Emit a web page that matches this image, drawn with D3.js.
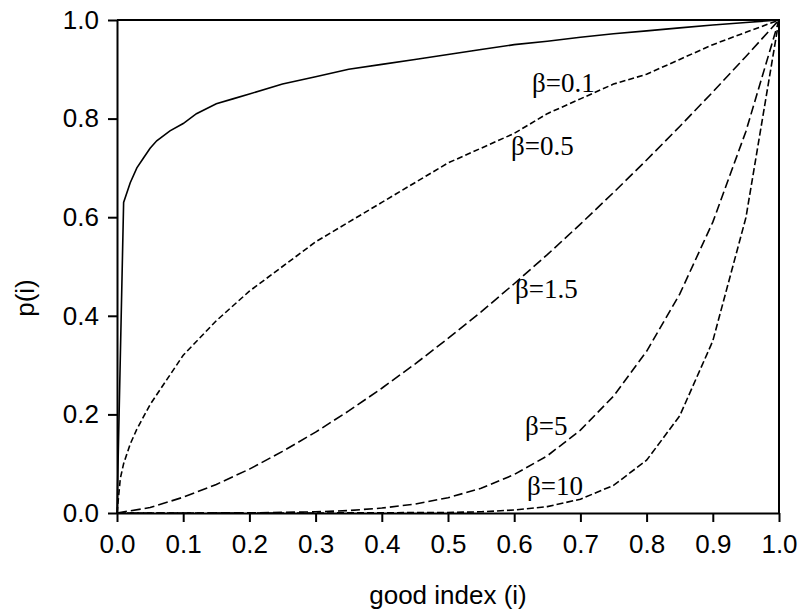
<!DOCTYPE html>
<html>
<head>
<meta charset="utf-8">
<script src="https://cdn.jsdelivr.net/npm/d3@7"></script>
<style>
	body { margin: 0; background: white; }
	.axis text { font-family: "Liberation Sans", Arial, sans-serif; font-size: 26px; fill: black; }
	.axis path, .axis line { stroke: black; stroke-width: 2; }
	.lbl { font-family: "Liberation Serif", "Times New Roman", serif; font-size: 27px; }
	.title { font-family: "Liberation Sans", Arial, sans-serif; font-size: 26px; }
</style>
</head>
<body>
<svg width="798" height="613"></svg>
<script>

function whenDocumentLoaded(action) {
	if (document.readyState === "loading") {
		document.addEventListener("DOMContentLoaded", action);
	} else {
		action();
	}
}

// values, p(i) against good index i
const I_01 = [0, 0.01, 0.02, 0.03, 0.04, 0.05, 0.06, 0.08, 0.1, 0.12, 0.15, 0.175, 0.2, 0.25, 0.3, 0.35, 0.4, 0.45, 0.5, 0.55, 0.6, 0.65, 0.7, 0.75, 0.8, 0.85, 0.9, 0.95, 1];
const P_01 = [0, 0.63, 0.67, 0.70, 0.72, 0.74, 0.755, 0.775, 0.79, 0.81, 0.83, 0.84, 0.85, 0.87, 0.885, 0.90, 0.91, 0.92, 0.93, 0.94, 0.95, 0.957, 0.965, 0.972, 0.978, 0.984, 0.99, 0.995, 1];

const I_05 = [0, 0.005, 0.01, 0.02, 0.03, 0.05, 0.075, 0.1, 0.15, 0.2, 0.25, 0.3, 0.35, 0.4, 0.45, 0.5, 0.55, 0.6, 0.65, 0.7, 0.75, 0.8, 0.85, 0.9, 0.95, 1];
const P_05 = [0, 0.07, 0.10, 0.14, 0.17, 0.22, 0.27, 0.32, 0.39, 0.45, 0.50, 0.55, 0.59, 0.63, 0.67, 0.71, 0.74, 0.77, 0.81, 0.84, 0.87, 0.89, 0.92, 0.95, 0.975, 1];

const I_15 = [0, 0.05, 0.1, 0.15, 0.2, 0.25, 0.3, 0.35, 0.4, 0.45, 0.5, 0.55, 0.6, 0.65, 0.7, 0.75, 0.8, 0.85, 0.9, 0.95, 1];
const P_15 = [0, 0.011, 0.032, 0.058, 0.089, 0.125, 0.164, 0.207, 0.253, 0.302, 0.354, 0.408, 0.465, 0.524, 0.586, 0.65, 0.716, 0.784, 0.854, 0.926, 1];

const I_5 = [0, 0.1, 0.2, 0.3, 0.35, 0.4, 0.45, 0.5, 0.55, 0.6, 0.65, 0.7, 0.75, 0.8, 0.85, 0.9, 0.95, 1];
const P_5 = [0, 0, 0.0003, 0.0024, 0.005, 0.01, 0.018, 0.031, 0.05, 0.078, 0.116, 0.168, 0.237, 0.328, 0.444, 0.59, 0.774, 1];

const I_10 = [0, 0.1, 0.3, 0.5, 0.55, 0.6, 0.65, 0.7, 0.75, 0.8, 0.85, 0.9, 0.95, 1];
const P_10 = [0, 0, 0, 0.001, 0.0025, 0.006, 0.013, 0.028, 0.056, 0.107, 0.197, 0.349, 0.599, 1];

const BETAS = ['β=0.1', 'β=0.5', 'β=1.5', 'β=5', 'β=10'];
const X_TICKS = [0, 0.1, 0.2, 0.3, 0.4, 0.5, 0.6, 0.7, 0.8, 0.9, 1.0];
const Y_TICKS = [0, 0.2, 0.4, 0.6, 0.8, 1.0];

class CurvePlot {
	constructor(series){
		let svg = d3.select('svg');
		let left = 117, right = 779, top = 20, bottom = 513;

		let scaleX = d3.scaleLinear().domain([0, 1]).range([left, right]);
		let scaleY = d3.scaleLinear().domain([0, 1]).range([bottom, top]);

		// frame: top and right sides
		svg.append('path')
			.attr('d', `M${left},${top}H${right}V${bottom}`)
			.attr('fill', 'none').attr('stroke', 'black').attr('stroke-width', 2);

		let xAxis = d3.axisBottom(scaleX).tickValues(X_TICKS).tickFormat(d3.format('.1f'))
			.tickSizeInner(9).tickSizeOuter(0).tickPadding(13);
		let yAxis = d3.axisLeft(scaleY).tickValues(Y_TICKS).tickFormat(d3.format('.1f'))
			.tickSizeInner(9).tickSizeOuter(0).tickPadding(9);
		svg.append('g').attr('class', 'axis').attr('transform', `translate(0,${bottom})`).call(xAxis);
		svg.append('g').attr('class', 'axis').attr('transform', `translate(${left},0)`).call(yAxis);

		let line = d3.line().x(d => scaleX(d[0])).y(d => scaleY(d[1]));

		svg.append('g')
			.selectAll('path')
			.data(series)
			.enter()
			.append('path')
			.attr('d', s => line(d3.zip(s.i, s.p)))
			.attr('fill', 'none')
			.attr('stroke', 'black')
			.attr('stroke-width', 1.6)
			.attr('stroke-dasharray', s => s.dash);

		svg.append('g')
			.selectAll('text')
			.data(series)
			.enter()
			.append('text')
			.attr('class', 'lbl')
			.attr('x', s => s.lx)
			.attr('y', s => s.ly)
			.text(s => s.name);

		svg.append('text')
			.attr('class', 'title')
			.attr('x', (left + right) / 2).attr('y', 604)
			.attr('text-anchor', 'middle')
			.text('good index (i)');

		svg.append('text')
			.attr('class', 'title')
			.attr('transform', 'translate(34,298) rotate(-90)')
			.attr('text-anchor', 'middle')
			.text('p(i)');
	}
}

whenDocumentLoaded(() => {
	let series = [
		{name: BETAS[0], i: I_01, p: P_01, dash: null, lx: 532, ly: 92},
		{name: BETAS[1], i: I_05, p: P_05, dash: '6,3', lx: 511, ly: 155},
		{name: BETAS[2], i: I_15, p: P_15, dash: '10,4', lx: 515, ly: 298},
		{name: BETAS[3], i: I_5, p: P_5, dash: '9,4', lx: 525, ly: 435},
		{name: BETAS[4], i: I_10, p: P_10, dash: '7,3', lx: 527, ly: 495}
	];
	const plot = new CurvePlot(series);
});
</script>
</body>
</html>
